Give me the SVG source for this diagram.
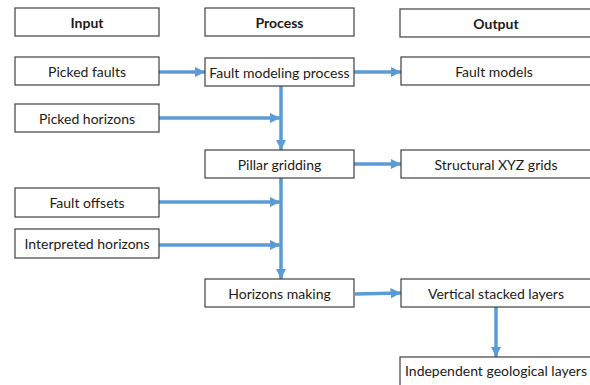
<svg xmlns="http://www.w3.org/2000/svg" width="590" height="385" viewBox="0 0 590 385">
<defs>
<style>
.box{fill:#ffffff;stroke:#404040;stroke-width:1.2}
.t{font-family:Lato,"Open Sans",sans-serif;font-size:14px;fill:#1a1a1a;text-anchor:middle;dominant-baseline:central}
.h{font-weight:bold}
.c{stroke:#5b9bd5;stroke-width:3.5;fill:none}
</style>
<marker id="ah" viewBox="0 0 10 10" refX="10" refY="5" markerWidth="3" markerHeight="3.2" orient="auto" markerUnits="strokeWidth">
<path d="M0,0 L10,5 L0,10 z" fill="#5b9bd5"/>
</marker>
</defs>
<rect width="590" height="385" fill="#ffffff"/>
<g id="connectors">
<line class="c" x1="159" y1="72" x2="205" y2="72" marker-end="url(#ah)"/>
<line class="c" x1="354" y1="72" x2="401" y2="72" marker-end="url(#ah)"/>
<line class="c" x1="159" y1="118" x2="280" y2="118" marker-end="url(#ah)"/>
<line class="c" x1="281" y1="86" x2="281" y2="150" marker-end="url(#ah)"/>
<line class="c" x1="354" y1="164" x2="401" y2="164" marker-end="url(#ah)"/>
<line class="c" x1="159" y1="202" x2="280" y2="202" marker-end="url(#ah)"/>
<line class="c" x1="159" y1="245" x2="280" y2="245" marker-end="url(#ah)"/>
<line class="c" x1="281" y1="178" x2="281" y2="279" marker-end="url(#ah)"/>
<line class="c" x1="355" y1="294" x2="401" y2="293" marker-end="url(#ah)"/>
<line class="c" x1="496" y1="307" x2="496" y2="357" marker-end="url(#ah)"/>
</g>
<g id="input"><rect class="box" x="15" y="8" width="144" height="28"/><text class="t h" x="87" y="22">Input</text></g>
<g id="process"><rect class="box" x="205" y="8" width="149" height="28"/><text class="t h" x="279.5" y="22">Process</text></g>
<g id="output"><rect class="box" x="400" y="9" width="200" height="28"/><text class="t h" x="496" y="23">Output</text></g>
<g id="picked-faults"><rect class="box" x="15" y="57" width="144" height="28"/><text class="t" x="87" y="71">Picked faults</text></g>
<g id="fault-modeling"><rect class="box" x="205" y="58" width="149" height="28"/><text class="t" x="279.5" y="72">Fault modeling process</text></g>
<g id="fault-models"><rect class="box" x="401" y="57" width="200" height="28"/><text class="t" x="494" y="71">Fault models</text></g>
<g id="picked-horizons"><rect class="box" x="15" y="104" width="144" height="28"/><text class="t" x="87" y="118">Picked horizons</text></g>
<g id="pillar-gridding"><rect class="box" x="205" y="150" width="149" height="28"/><text class="t" x="279.5" y="164">Pillar gridding</text></g>
<g id="structural-grids"><rect class="box" x="401" y="150" width="200" height="28"/><text class="t" x="496" y="164">Structural XYZ grids</text></g>
<g id="fault-offsets"><rect class="box" x="15" y="188" width="144" height="29"/><text class="t" x="87" y="202.5">Fault offsets</text></g>
<g id="interpreted-horizons"><rect class="box" x="15" y="229" width="144" height="29"/><text class="t" x="87" y="243.5">Interpreted horizons</text></g>
<g id="horizons-making"><rect class="box" x="205" y="279" width="149" height="28"/><text class="t" x="279.5" y="293">Horizons making</text></g>
<g id="vertical-stacked"><rect class="box" x="401" y="279" width="200" height="28"/><text class="t" x="496" y="293">Vertical stacked layers</text></g>
<g id="independent-layers"><rect class="box" x="400" y="357" width="200" height="30"/><text class="t" x="496" y="370">Independent geological layers</text></g>
</svg>
